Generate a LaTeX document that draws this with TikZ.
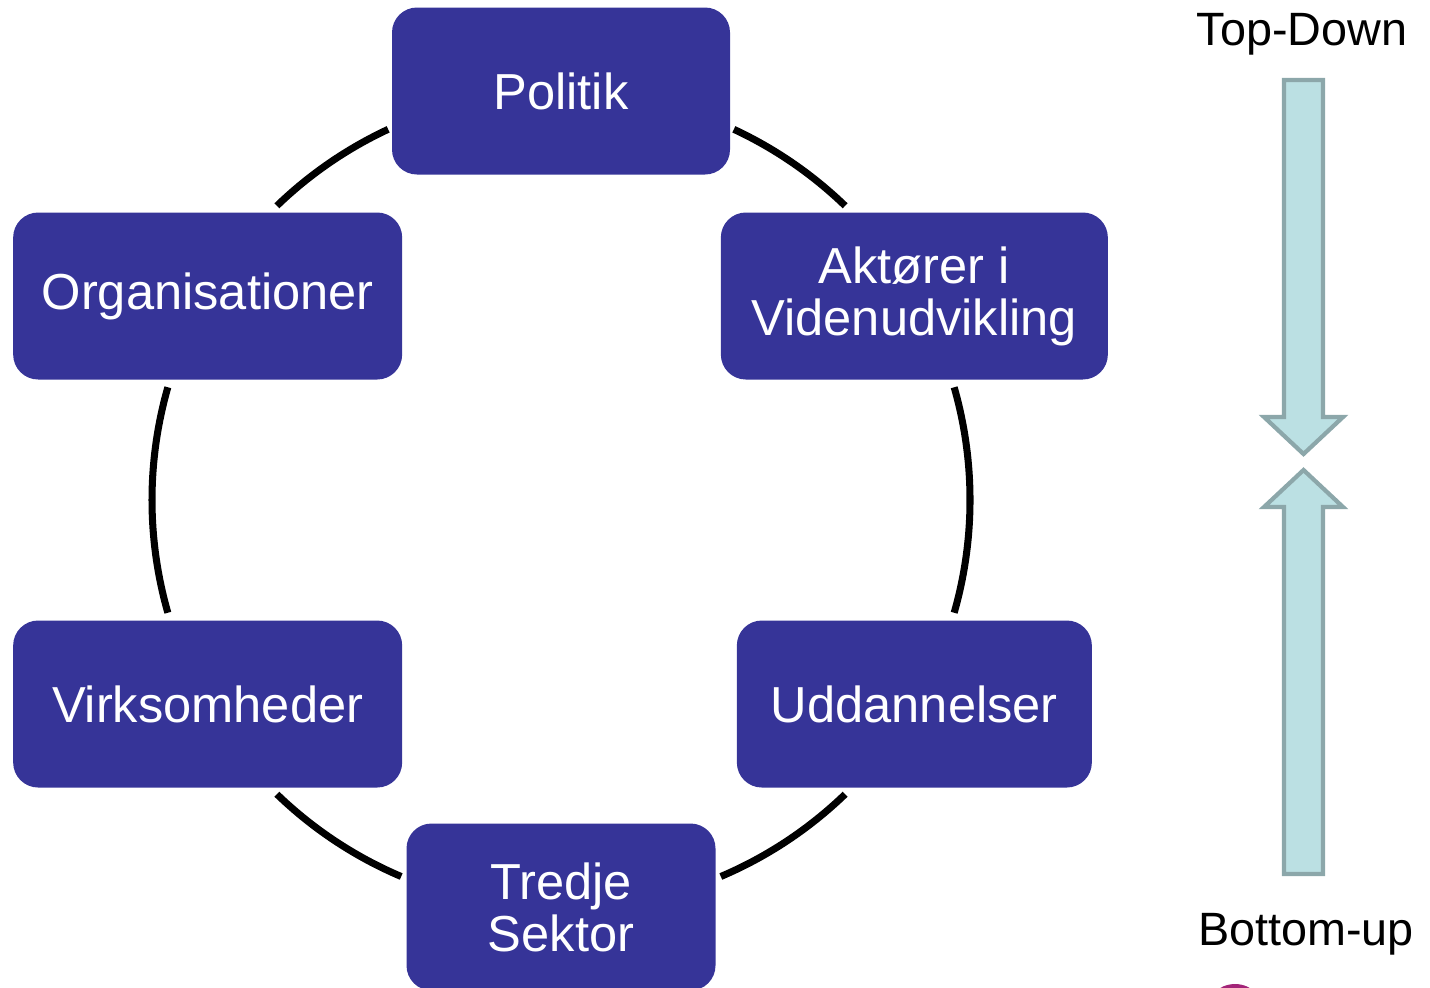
\documentclass[tikz,border=0pt]{standalone}
\usepackage{fontspec}
\setmainfont{Liberation Sans}
\definecolor{cunit}{rgb}{0.212, 0.204, 0.596}
\definecolor{cflow}{rgb}{0.733, 0.878, 0.89}
\definecolor{cflowedge}{rgb}{0.549, 0.655, 0.667}
\definecolor{cdot}{rgb}{0.64, 0.14, 0.47}

\tikzset{
  unit/.style={fill=cunit, text=white, rounded corners=0.25cm, align=center,
    minimum height=1.67cm, inner sep=0pt, font=\fontsize{14.4}{14.8}\selectfont},
  ring/.style={line width=2pt},
  flow/.style={fill=cflow, draw=cflowedge, line width=1.2pt},
  level/.style={anchor=base, font=\fontsize{13.3}{15}\selectfont}
}

\begin{document}
\begin{tikzpicture}

\useasboundingbox (0, 0) rectangle (14.3, -9.87);

\coordinate (c) at (5.61, -5.0);

% ring arcs between the units
\foreach \from/\to in {65/46, 16/-16, -46/-67, -113/-134, 196/164, 134/115} {
    \draw [ring] ([shift={(\from:4.09)}]c) arc (\from:\to:4.09);
}

% units round the ring
\begin{scope}[shift={(c)}]
\node [unit, minimum width=3.38cm] (pol) at (90:4.09) {Politik};
\node [unit, minimum width=3.87cm] (akt) at (30:4.08) {Aktører i\\Videnudvikling};
\node [unit, minimum width=3.55cm] (udd) at (-30:4.08) {Uddannelser};
\node [unit, minimum width=3.09cm] (tre) at (-90:4.07) {Tredje\\Sektor};
\node [unit, minimum width=3.89cm] (virk) at (210:4.08) {Virksomheder};
\node [unit, minimum width=3.89cm] (org) at (150:4.08) {Organisationer};
\end{scope}

% top-down and bottom-up
\node [level] (td) at (13.02, -0.45) {Top-Down};
\node [level] (bu) at (13.06, -9.45) {Bottom-up};

\draw [flow] (12.84, -0.80) -- (13.23, -0.80) -- (13.23, -4.17) -- (13.43, -4.17)
    -- (13.035, -4.54) -- (12.64, -4.17) -- (12.84, -4.17) -- cycle;
\draw [flow] (12.84, -8.74) -- (13.23, -8.74) -- (13.23, -5.07) -- (13.43, -5.07)
    -- (13.035, -4.70) -- (12.64, -5.07) -- (12.84, -5.07) -- cycle;

% dot at the lower edge
\fill [cdot] (12.35, -10.14) circle (0.30);

\end{tikzpicture}
\end{document}
